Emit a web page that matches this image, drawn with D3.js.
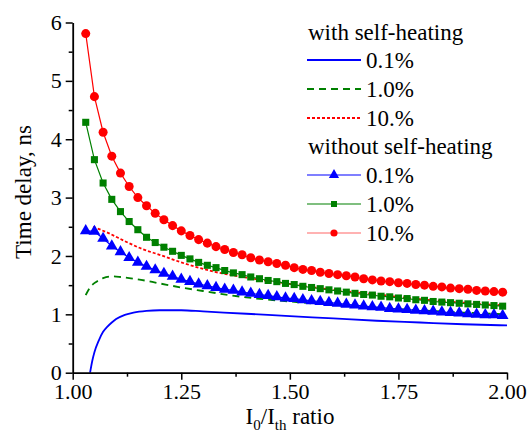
<!DOCTYPE html>
<html>
<head>
<meta charset="utf-8">
<script src="https://cdn.jsdelivr.net/npm/d3@7"></script>
<style>
  body { margin: 0; background: #fff; }
  svg text { font-family: "Liberation Serif", "Times New Roman", serif; fill: #000; }
</style>
</head>
<body>
<div id="chart"></div>
<script>
// ---- data ----
let ratio = [1.03, 1.05, 1.07, 1.09, 1.11, 1.13, 1.15, 1.17, 1.19, 1.21,
    1.23, 1.25, 1.27, 1.29, 1.31, 1.33, 1.35, 1.37, 1.39, 1.41,
    1.43, 1.45, 1.47, 1.49, 1.51, 1.53, 1.55, 1.57, 1.59, 1.61,
    1.63, 1.65, 1.67, 1.69, 1.71, 1.73, 1.75, 1.77, 1.79, 1.81,
    1.83, 1.85, 1.87, 1.89, 1.91, 1.93, 1.95, 1.97, 1.99];

// without self-heating (markers)
let noHeat01 = [2.43, 2.42, 2.30, 2.17, 2.07, 1.97, 1.89, 1.82, 1.76, 1.70,
    1.65, 1.60, 1.56, 1.52, 1.49, 1.46, 1.43, 1.41, 1.38, 1.36,
    1.34, 1.32, 1.30, 1.28, 1.27, 1.25, 1.23, 1.22, 1.20, 1.19,
    1.17, 1.16, 1.14, 1.13, 1.12, 1.10, 1.09, 1.08, 1.07, 1.06,
    1.05, 1.04, 1.03, 1.02, 1.01, 1.00, 0.99, 0.99, 0.98];
let noHeat1 = [4.29, 3.65, 3.25, 2.97, 2.76, 2.59, 2.45, 2.32, 2.23, 2.15,
    2.08, 2.01, 1.95, 1.89, 1.84, 1.80, 1.75, 1.71, 1.68, 1.64,
    1.61, 1.58, 1.56, 1.53, 1.51, 1.48, 1.46, 1.44, 1.42, 1.40,
    1.38, 1.36, 1.34, 1.33, 1.31, 1.30, 1.28, 1.27, 1.25, 1.24,
    1.22, 1.21, 1.20, 1.19, 1.18, 1.17, 1.16, 1.15, 1.14];
let noHeat10 = [5.81, 4.73, 4.12, 3.71, 3.42, 3.19, 3.00, 2.86, 2.73, 2.62,
    2.52, 2.43, 2.35, 2.28, 2.22, 2.16, 2.11, 2.06, 2.02, 1.97,
    1.93, 1.90, 1.87, 1.84, 1.80, 1.77, 1.75, 1.72, 1.70, 1.68,
    1.66, 1.64, 1.61, 1.59, 1.57, 1.56, 1.54, 1.53, 1.51, 1.50,
    1.48, 1.47, 1.45, 1.44, 1.43, 1.41, 1.40, 1.39, 1.38];

// with self-heating (lines)
let heat01X = [1.04, 1.045, 1.05, 1.06, 1.07, 1.08, 1.09, 1.10, 1.12, 1.14, 1.17, 1.20, 1.25, 1.30, 1.40, 1.50, 1.60, 1.70, 1.80, 1.90, 2.00];
let heat01Y = [0.00, 0.20, 0.35, 0.55, 0.70, 0.79, 0.86, 0.92, 0.99, 1.03, 1.06, 1.07, 1.07, 1.05, 1.01, 0.97, 0.93, 0.89, 0.86, 0.83, 0.81];
let heat1X = [1.03, 1.04, 1.055, 1.07, 1.09, 1.11, 1.15, 1.20, 1.25, 1.30, 1.36, 1.40, 1.50, 1.60, 1.70, 1.80, 1.90, 2.00];
let heat1Y = [1.33, 1.46, 1.56, 1.62, 1.65, 1.64, 1.60, 1.53, 1.46, 1.40, 1.33, 1.29, 1.22, 1.16, 1.11, 1.07, 1.03, 1.00];
let heat10X = [1.047, 1.08, 1.124, 1.16, 1.20, 1.25, 1.32, 1.40, 1.50, 1.60, 1.70, 1.80, 1.90, 2.00];
let heat10Y = [2.50, 2.40, 2.24, 2.12, 2.02, 1.89, 1.74, 1.63, 1.52, 1.42, 1.34, 1.26, 1.20, 1.15];

let xTicks = [1.00, 1.25, 1.50, 1.75, 2.00];
let xMinor = [1.125, 1.375, 1.625, 1.875];
let yTicks = [0, 1, 2, 3, 4, 5, 6];
let yMinor = [0.5, 1.5, 2.5, 3.5, 4.5, 5.5];

let lineSeries = [
    {label: "0.1%", xs: heat01X, ys: heat01Y, color: "#0000ff", dash: null},
    {label: "1.0%", xs: heat1X, ys: heat1Y, color: "#008000", dash: "7,5"},
    {label: "10.%", xs: heat10X, ys: heat10Y, color: "#ff0000", dash: "3,2"}
];
let markerSeries = [
    {label: "0.1%", ys: noHeat01, color: "#0000ff", symbol: d3.symbolTriangle, size: 60, legendSize: 45},
    {label: "1.0%", ys: noHeat1, color: "#008000", symbol: d3.symbolSquare, size: 50, legendSize: 36},
    {label: "10.%", ys: noHeat10, color: "#ff0000", symbol: d3.symbolCircle, size: 64, legendSize: 40}
];

// ---- layout ----
let width = 529, height = 431;
let serif = "'Liberation Serif', 'Times New Roman', serif";
let svg = d3.select("#chart").append("svg")
    .attr("width", width)
    .attr("height", height);

let x = d3.scaleLinear().domain([1, 2]).range([72.7, 507]);
let y = d3.scaleLinear().domain([0, 6]).range([372.7, 22.5]);

// self-heating lines
let line = d3.line().x(d => x(d[0])).y(d => y(d[1])).curve(d3.curveMonotoneX);
lineSeries.forEach(s => {
    svg.append("path")
        .datum(s.xs.map((v, i) => [v, s.ys[i]]))
        .attr("fill", "none")
        .attr("stroke", s.color)
        .attr("stroke-width", 1.8)
        .attr("stroke-dasharray", s.dash)
        .attr("d", line);
});

// without self-heating: thin line + markers
let mline = d3.line().x(d => x(d[0])).y(d => y(d[1]));
markerSeries.forEach(s => {
    let pts = ratio.map((v, i) => [v, s.ys[i]]);
    svg.append("path")
        .datum(pts)
        .attr("fill", "none")
        .attr("stroke", s.color)
        .attr("stroke-width", 1.2)
        .attr("d", mline);
    svg.append("g").selectAll("path")
        .data(pts)
        .join("path")
        .attr("transform", d => `translate(${x(d[0])},${y(d[1])})`)
        .attr("d", d3.symbol().type(s.symbol).size(s.size))
        .attr("fill", s.color);
});

// axes
let fmt = d3.format(".2f");
svg.append("g")
    .attr("transform", `translate(0,${y(0)})`)
    .call(d3.axisBottom(x).tickValues(xTicks).tickFormat(fmt).tickSize(7).tickPadding(4).tickSizeOuter(0));
svg.append("g")
    .attr("transform", `translate(0,${y(0)})`)
    .call(d3.axisBottom(x).tickValues(xMinor).tickFormat("").tickSize(4).tickSizeOuter(0))
    .select(".domain").remove();

svg.append("g")
    .attr("transform", `translate(${x(1)},0)`)
    .call(d3.axisLeft(y).tickValues(yTicks).tickFormat(d3.format("d")).tickSize(7).tickPadding(4).tickSizeOuter(0));
svg.append("g")
    .attr("transform", `translate(${x(1)},0)`)
    .call(d3.axisLeft(y).tickValues(yMinor).tickFormat("").tickSize(4).tickSizeOuter(0))
    .select(".domain").remove();

svg.selectAll("g").attr("font-family", serif);
svg.selectAll(".domain").attr("stroke", "#000").attr("stroke-width", 1.8);
svg.selectAll(".tick line").attr("stroke", "#000").attr("stroke-width", 1.5);
svg.selectAll(".tick text")
    .style("font-family", serif)
    .style("font-size", "22px")
    .attr("fill", "#000");

// axis titles
svg.append("text")
    .attr("transform", `translate(31,${192}) rotate(-90)`)
    .attr("text-anchor", "middle")
    .style("font-family", serif)
    .style("font-size", "23px")
    .text("Time delay, ns");

let xt = svg.append("text")
    .attr("x", 290)
    .attr("y", 424)
    .attr("text-anchor", "middle")
    .style("font-family", serif)
    .style("font-size", "23px");
xt.append("tspan").text("I");
xt.append("tspan").attr("dy", 6).style("font-size", "15px").text("0");
xt.append("tspan").attr("dy", -6).text("/I");
xt.append("tspan").attr("dy", 6).style("font-size", "15px").text("th");
xt.append("tspan").attr("dy", -6).text(" ratio");

// legend
let legend = svg.append("g").style("font-family", serif).style("font-size", "23px");
legend.append("text").attr("x", 308).attr("y", 40).text("with self-heating");
lineSeries.forEach((s, i) => {
    let ly = 60 + i * 29;
    legend.append("line")
        .attr("x1", 307).attr("x2", 361).attr("y1", ly).attr("y2", ly)
        .attr("stroke", s.color).attr("stroke-width", 1.8)
        .attr("stroke-dasharray", s.dash);
    legend.append("text").attr("x", 366).attr("y", ly + 8).text(s.label);
});
legend.append("text").attr("x", 308).attr("y", 154).text("without self-heating");
markerSeries.forEach((s, i) => {
    let ly = 175 + i * 29;
    legend.append("line")
        .attr("x1", 307).attr("x2", 361).attr("y1", ly).attr("y2", ly)
        .attr("stroke", s.color).attr("stroke-width", 1.2)
        .attr("opacity", i === 2 ? 0.6 : 1);
    legend.append("path")
        .attr("transform", `translate(334,${ly})`)
        .attr("d", d3.symbol().type(s.symbol).size(s.legendSize))
        .attr("fill", s.color);
    legend.append("text").attr("x", 366).attr("y", ly + 8).text(s.label);
});
</script>
</body>
</html>
